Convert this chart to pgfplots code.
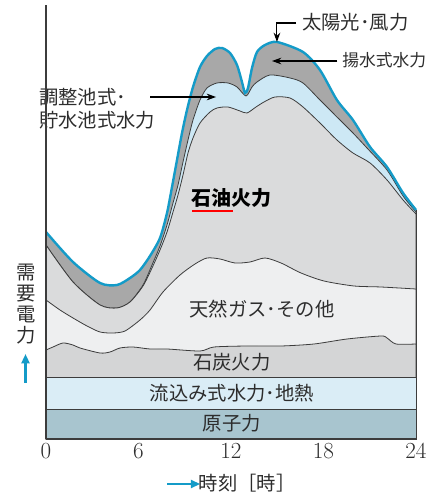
\documentclass[border=0pt]{standalone}
\usepackage{pgfplots}
\pgfplotsset{compat=1.18}
\usepackage{pgfplotstable}
\usetikzlibrary{arrows.meta}
\usepackage{fontspec}
\newfontfamily\jp{Noto Sans CJK JP}
\definecolor{tealc}{RGB}{20,155,200}
\definecolor{dgray}{RGB}{168,168,168}
\definecolor{lblue}{RGB}{205,232,245}
\definecolor{oilgray}{RGB}{218,219,220}
\definecolor{gasgray}{RGB}{238,239,240}
\definecolor{coalgray}{RGB}{212,213,214}
\definecolor{runblue}{RGB}{218,237,246}
\definecolor{nuclear}{RGB}{168,197,207}
\definecolor{linec}{RGB}{60,60,60}
\definecolor{txt}{RGB}{45,45,45}

\pgfplotstableread{
x y
0 207
1.751 177
3.503 156
4.605 154
5.449 161
6.097 169
6.746 183
7.394 201
7.849 226
8.173 252
8.497 279
8.822 306
9.146 329
9.535 352
9.989 372
10.443 383
10.962 390
11.416 391
11.935 386
12.389 374
12.713 357
12.908 346
13.102 351
13.362 371
13.686 387
14.205 394
14.983 397
16.67 387
17.77 369
18.87 339
19.91 319
21.02 292
22.12 272
23.16 246
24 229
}\curveA

\pgfplotstableread{
x y
0 194
1.751 157
3.503 134
4.605 131
5.449 137
6.292 154
6.876 174
7.394 193
7.849 214
8.238 236
8.562 254
8.886 277
9.211 299
9.535 319
9.989 339
10.443 351
11.092 356
11.805 356
12.389 352
12.973 343
13.362 352
13.686 357
14.53 364
15.83 361
16.67 356
17.77 339
18.87 322
19.91 306
20.82 291
22.12 269
23.16 243
24 227
}\curveC

\pgfplotstableread{
x y
0 194
1.751 157
3.503 134
4.605 131
5.449 137
6.292 153
6.876 171
7.394 189
7.849 207
8.238 227
8.562 244
8.886 264
9.211 286
9.535 301
9.989 316
10.638 327
11.092 331
11.805 332
12.584 328
13.038 326
13.621 332
14.140 337
14.854 342
15.827 341
16.67 332
17.77 316
18.87 299
19.91 286
21.02 276
22.12 259
23.16 239
24 225
}\curveD

\pgfplotstableread{
x y
0 139
0.908 129
1.751 121
2.659 113
3.503 107
4.346 106
5.124 108
6.097 119
6.746 129
7.589 147
8.692 164
9.665 175
10.443 181
11.286 180
12.259 176
13.232 177
14.205 181
15.243 176
16.540 166
18.032 158
19.978 153
21.729 152
24 150
}\curveE

\pgfplotstableread{
x y
0 89
0.454 92
1.103 96
1.751 94
2.205 91
3.503 86
4.151 87
4.800 91
5.643 92
6.746 90
7.849 90
9.989 88
10.897 92
13.038 93
15.243 93
17.383 95
19.524 100
21.729 103
22.118 101
22.702 95
24 95
}\curveF

\pgfplotstableread{
x y
0 62
24 62
}\curveG

\pgfplotstableread{
x y
0 30
24 30
}\curveH

\begin{document}
\begin{tikzpicture}
\begin{axis}[
  scale only axis, width=277.5pt, height=325.5pt,
  xmin=0, xmax=24, ymin=0, ymax=434,
  axis x line=bottom, axis y line=left,
  axis line style={-, line width=0.8pt, color=linec},
  xtick={0,6,12,18,24}, ytick=\empty, major tick length=0pt,
  tick label style={font=\fontsize{17}{17}\selectfont, text=txt},
  axis on top=true,
  clip=false,
  smooth, tension=0.45,
]
\addplot[fill=dgray, draw=none] table {\curveA} \closedcycle;
\addplot[fill=lblue, draw=linec, line width=0.6pt] table {\curveC} \closedcycle;
\addplot[fill=oilgray, draw=linec, line width=0.6pt] table {\curveD} \closedcycle;
\addplot[fill=gasgray, draw=linec, line width=0.6pt] table {\curveE} \closedcycle;
\addplot[fill=coalgray, draw=linec, line width=0.6pt] table {\curveF} \closedcycle;
\addplot[sharp plot, fill=runblue, draw=linec, line width=0.6pt] table {\curveG} \closedcycle;
\addplot[sharp plot, fill=nuclear, draw=linec, line width=0.6pt] table {\curveH} \closedcycle;
\addplot[tealc, line width=1.8pt] table {\curveA};
\addplot[sharp plot, linec, line width=0.6pt] coordinates {(24,0) (24,229)};

% labels
\node[font=\jp\bfseries\fontsize{15}{15}\selectfont, text=black] at (axis cs:12.0,241) {石油火力};
\draw[red, line width=1.6pt] (axis cs:9.47,228) -- (axis cs:12.13,228);
\node[font=\jp\fontsize{14.5}{15}\selectfont, text=txt] at (axis cs:14.01,130) {天然ガス･その他};
\node[font=\jp\fontsize{14.5}{15}\selectfont, text=txt] at (axis cs:12.06,77) {石炭火力};
\node[font=\jp\fontsize{14.5}{15}\selectfont, text=txt] at (axis cs:12.06,46) {流込み式水力･地熱};
\node[font=\jp\fontsize{14.5}{15}\selectfont, text=txt] at (axis cs:12.06,16) {原子力};

\node[font=\jp\fontsize{14.5}{15}\selectfont, text=txt, anchor=west, inner sep=0pt] at (axis cs:-0.454,342) {調整池式･};
\node[font=\jp\fontsize{14.5}{15}\selectfont, text=txt, anchor=west, inner sep=0pt] at (axis cs:-0.454,319) {貯水池式水力};
\draw[black, line width=0.8pt, -{Stealth[length=7pt,width=5pt]}] (axis cs:6.746,342) -- (axis cs:11.03,342);

\node[font=\jp\fontsize{14.5}{15}\selectfont, text=txt, anchor=west, inner sep=0pt] at (axis cs:16.6,417) {太陽光･風力};
\draw[black, line width=0.8pt, -{Stealth[length=7pt,width=5pt]}] (axis cs:16.22,416) -- (axis cs:14.98,416) -- (axis cs:14.98,397);

\node[font=\jp\fontsize{12.6}{13}\selectfont, text=txt, anchor=west, inner sep=0pt] at (axis cs:19.2,379) {揚水式水力};
\draw[black, line width=0.8pt, -{Stealth[length=7pt,width=5pt]}] (axis cs:18.9,378) -- (axis cs:14.66,378);

\node[font=\jp\fontsize{14.5}{15.75}\selectfont, text=txt, align=center, inner sep=0pt] at (axis cs:-1.27,135) {需\\要\\電\\力};
\draw[tealc, line width=1.6pt, -{Triangle[length=7pt,width=6pt]}] (axis cs:-1.33,56) -- (axis cs:-1.33,85);

\draw[tealc, line width=1.6pt, -{Triangle[length=7pt,width=6pt]}] (axis cs:7.85,-45) -- (axis cs:10.0,-45);
\node[font=\jp\fontsize{14.5}{15}\selectfont, text=txt] at (axis cs:13.04,-44) {時刻［時］};

\coordinate (bl) at (axis cs:-2.984,-59);
\coordinate (tr) at (axis cs:24.843,439);
\end{axis}
\pgfresetboundingbox
\path[use as bounding box] (bl) rectangle (tr);
\end{tikzpicture}
\end{document}
